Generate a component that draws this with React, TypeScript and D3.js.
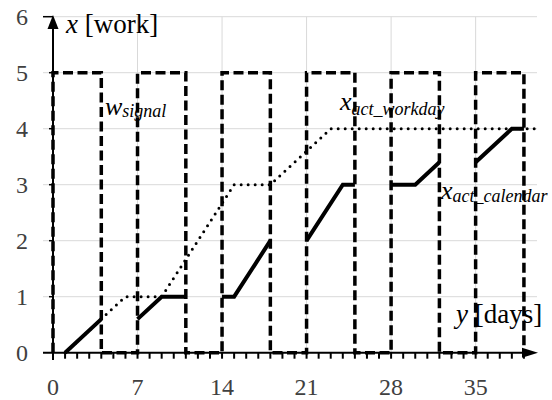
import React from 'react';
import * as d3 from 'd3';

// signal pulses (work allowed), value 5 while on
const signalOn = [0, 7, 14, 21, 28, 35];
const signalOff = [4, 11, 18, 25, 32, 39];
const signalLevel = 5;

// x_act_calendar, solid, null = break
const calendarDays = [1, 4, null, 7, 9, 11, null, 14, 15, 18, null, 21, 24, 25, null, 28, 30, 32, null, 35, 38, 39];
const calendarWork = [0, 0.6, null, 0.6, 1, 1, null, 1, 1, 2, null, 2, 3, 3, null, 3, 3, 3.4, null, 3.4, 4, 4];

// x_act_workday, dotted
const workdayDays = [1, 4, 6, 9, 15, 18, 23, 40];
const workdayWork = [0, 0.6, 1, 1, 3, 3, 4, 4];

const xTicks = [0, 7, 14, 21, 28, 35];
const yTicks = [0, 1, 2, 3, 4, 5, 6];

const W = 552, H = 400;
const font = '"Liberation Serif", "Times New Roman", serif';

export default function App() {
  const x = d3.scaleLinear().domain([0, 40]).range([53, 536]);
  const y = d3.scaleLinear().domain([0, 6]).range([352.7, 16.7]);

  const signalPts: [number, number][] = [];
  signalOn.forEach((d, i) => {
    signalPts.push([d, 0], [d, signalLevel], [signalOff[i], signalLevel], [signalOff[i], 0]);
  });
  const line = d3.line<[number, number]>().x(d => x(d[0])).y(d => y(d[1]));

  const calPts = calendarDays.map((d, i) => [d, calendarWork[i]] as [number | null, number | null]);
  const calLine = d3.line<[number | null, number | null]>()
    .defined(d => d[0] !== null)
    .x(d => x(d[0] as number))
    .y(d => y(d[1] as number));

  const wdPts = workdayDays.map((d, i) => [d, workdayWork[i]] as [number, number]);

  const minor = d3.range(0, 40);
  const x0 = x(0), y0 = y(0);

  return (
    <svg width={W} height={H} style={{ position: 'absolute', left: 0, top: 0, background: '#fff' }} fontFamily={font}>
      {/* grid */}
      {yTicks.slice(1).map(t => (
        <line key={'gy' + t} x1={43} x2={537} y1={y(t)} y2={y(t)} stroke="#d9d9d9" strokeWidth={1} />
      ))}
      {xTicks.slice(1).map(t => (
        <line key={'gx' + t} x1={x(t)} x2={x(t)} y1={y(6)} y2={y0} stroke="#d9d9d9" strokeWidth={1} />
      ))}
      <line x1={43} x2={x0} y1={y(6)} y2={y(6)} stroke="#000" strokeWidth={1.5} />

      {/* signal */}
      <path d={line(signalPts) ?? ''} fill="none" stroke="#000" strokeWidth={3.5} strokeDasharray="10,4.5" />

      {/* workday dotted */}
      <path d={line(wdPts) ?? ''} fill="none" stroke="#000" strokeWidth={3} strokeDasharray="0,7" strokeLinecap="round" />

      {/* calendar solid */}
      <path d={calLine(calPts) ?? ''} fill="none" stroke="#000" strokeWidth={4} />

      {/* axes */}
      <line x1={43} x2={530} y1={y0} y2={y0} stroke="#000" strokeWidth={2} />
      <path d={`M538,${y0} L522,${y0 - 5} L522,${y0 + 5} Z`} fill="#000" />
      <line x1={x0} x2={x0} y1={360} y2={24} stroke="#000" strokeWidth={2} />
      <path d={`M${x0},15 L${x0 - 5.5},29 L${x0 + 5.5},29 Z`} fill="#000" />
      {minor.map(d => (
        <line key={'m' + d} x1={x(d)} x2={x(d)} y1={y0} y2={y0 + 6} stroke="#000" strokeWidth={2} />
      ))}
      {yTicks.slice(1, 6).map(t => (
        <line key={'ty' + t} x1={49} x2={x0} y1={y(t)} y2={y(t)} stroke="#000" strokeWidth={1.5} />
      ))}

      {/* tick labels */}
      {yTicks.map(t => (
        <text key={'ly' + t} x={28} y={y(t) + 8} textAnchor="end" fontSize={24} fill="#404040">{t}</text>
      ))}
      {xTicks.map(t => (
        <text key={'lx' + t} x={x(t)} y={395} textAnchor="middle" fontSize={24} fill="#404040">{t}</text>
      ))}

      {/* axis titles */}
      <text x={66} y={33} fontSize={27}>
        <tspan fontStyle="italic">x</tspan> [work]
      </text>
      <text x={456} y={323} fontSize={27}>
        <tspan fontStyle="italic">y</tspan> [days]
      </text>

      {/* series labels */}
      <text x={105} y={115} fontSize={26} fontStyle="italic">
        w<tspan fontSize={18} dy={2}>signal</tspan>
      </text>
      <text x={340} y={110} fontSize={26} fontStyle="italic">
        x<tspan fontSize={18} dy={5}>act_workday</tspan>
      </text>
      <text x={441} y={199} fontSize={26} fontStyle="italic">
        x<tspan fontSize={18} dy={3}>act_calendar</tspan>
      </text>
    </svg>
  );
}
